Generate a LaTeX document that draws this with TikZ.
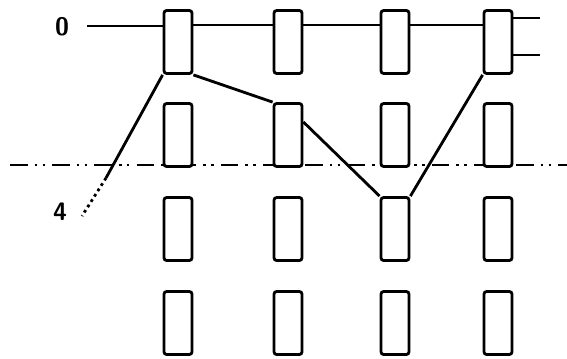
\documentclass[tikz,border=0pt]{standalone}
\usetikzlibrary{positioning}

\begin{document}
\begin{tikzpicture}[
  x=0.02cm, y=-0.02cm,
  line width=1.6pt,
  cell/.style={
    rectangle, draw, fill=white,
    rounded corners=1.5pt,
    minimum width=0.56cm, minimum height=1.26cm,
    inner sep=0pt
  },
  tag/.style={
    font=\Large\sffamily\bfseries, inner sep=1pt
  },
  level/.style={
    line width=0.8pt,
    dash pattern=on 10pt off 4pt on 1.5pt off 3pt on 1.5pt off 4pt
  },
]
  \useasboundingbox (0,0) rectangle (567,358);

  % -------------------------------------------------------
  %  Dash-dot level line (behind the cells)
  % -------------------------------------------------------
  \coordinate (hl) at (10,165);
  \coordinate (hr) at (567,165);
  \draw[level] (hl) -- (hr);

  % -------------------------------------------------------
  %  Grid of cells
  % -------------------------------------------------------
  \node[cell] (b11) at (178, 42) {};
  \node[cell] (b12) at (288, 42) {};
  \node[cell] (b13) at (395, 42) {};
  \node[cell] (b14) at (498, 42) {};

  \node[cell] (b21) at (178,135) {};
  \node[cell] (b22) at (288,135) {};
  \node[cell] (b23) at (395,135) {};
  \node[cell] (b24) at (498,135) {};

  \node[cell] (b31) at (178,229) {};
  \node[cell] (b32) at (288,229) {};
  \node[cell] (b33) at (395,229) {};
  \node[cell] (b34) at (498,229) {};

  \node[cell] (b41) at (178,323) {};
  \node[cell] (b42) at (288,323) {};
  \node[cell] (b43) at (395,323) {};
  \node[cell] (b44) at (498,323) {};

  % -------------------------------------------------------
  %  Labels
  % -------------------------------------------------------
  \node[tag] (lab0) at (62, 27) {0};
  \node[tag] (lab4) at (60,212) {4};

  % -------------------------------------------------------
  %  Top path through the first row
  % -------------------------------------------------------
  \coordinate (in0) at (87, 26);
  \draw (in0) -- (in0 -| b11.west);
  \draw ([yshift=0.34cm]b11.east) -- ([yshift=0.34cm]b12.west);
  \draw ([yshift=0.34cm]b12.east) -- ([yshift=0.34cm]b13.west);
  \draw ([yshift=0.34cm]b13.east) -- ([yshift=0.34cm]b14.west);

  \coordinate (out1) at (540, 18);
  \coordinate (out2) at (540, 55);
  \draw (out1 -| b14.east) -- (out1);
  \draw (out2 -| b14.east) -- (out2);

  % -------------------------------------------------------
  %  Zig-zag path down and back up
  % -------------------------------------------------------
  \draw (b11.south east) -- (b22.north west);
  \draw ([yshift=0.26cm]b22.east) -- (b33.north west);
  \draw (b33.north east) -- (b14.south west);

  % -------------------------------------------------------
  %  Branch to level 4 (dotted below the level line)
  % -------------------------------------------------------
  \coordinate (cut) at (106,178);
  \coordinate (end4) at (82,216);
  \draw (b11.south west) -- (cut);
  \draw[dotted, line width=1.6pt] (cut) -- (end4);

\end{tikzpicture}
\end{document}
